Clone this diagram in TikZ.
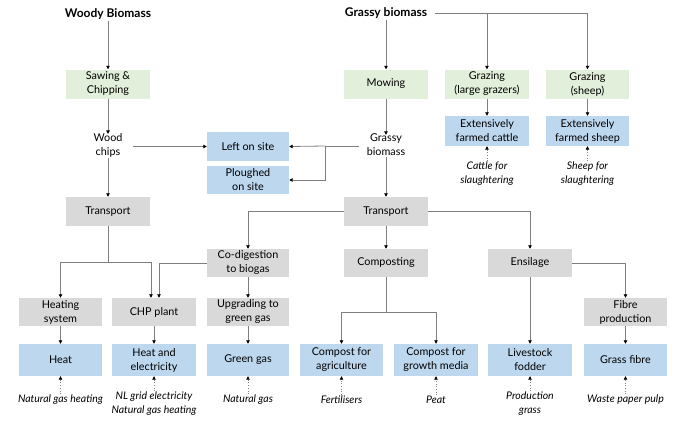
\documentclass[tikz,border=0pt]{standalone}
\usepackage{fontspec}
\setmainfont{Lato}
\usetikzlibrary{arrows.meta,positioning}
\definecolor{bxgreen}{HTML}{E2EFDA}
\definecolor{bxblue}{HTML}{BDD7EE}
\definecolor{bxgray}{HTML}{D9D9D9}
\definecolor{ln}{HTML}{7F7F7F}
\begin{document}
\begin{tikzpicture}[x=1pt,y=-1pt,
  font=\fontsize{10.8}{14}\selectfont,
  box/.style={rectangle,minimum width=84pt,minimum height=29pt,inner sep=1pt,align=center},
  gbox/.style={box,fill=bxgreen},
  bbox/.style={box,fill=bxblue},
  ybox/.style={box,fill=bxgray},
  rbox/.style={box,fill=bxblue,minimum height=32pt},
  plain/.style={align=center,inner sep=1pt},
  lab/.style={align=center,inner sep=1pt,font=\fontsize{10.5}{14}\selectfont\itshape},
  ttl/.style={inner sep=1pt,font=\fontsize{12}{14}\selectfont\bfseries},
  con/.style={draw=ln,line width=0.8pt},
  arr/.style={con,-{Triangle[length=3.5pt,width=3.5pt,color=black]}},
  dot/.style={draw=ln,line width=0.7pt,dotted,-{Triangle[length=3.5pt,width=3.5pt,color=black]}}
]
\useasboundingbox (0,0) rectangle (678,421);
% titles
\node[ttl] (woody) at (108,14) {Woody Biomass};
\node[ttl] (grassy) at (386,13) {Grassy biomass};
% row 1
\node[gbox] (saw) at (108,84) {Sawing \&\\Chipping};
\node[gbox] (mow) at (386,84) {Mowing};
\node[gbox] (grzL) at (487,84) {Grazing\\(large grazers)};
\node[gbox,minimum width=83pt] (grzS) at (587.5,84) {Grazing\\(sheep)};
\node[bbox,minimum height=30pt] (cattle) at (487,131) {Extensively\\farmed cattle};
\node[bbox,minimum height=30pt,minimum width=83pt] (sheep) at (587.5,131) {Extensively\\farmed sheep};
\node[lab] (lcattle) at (487,174) {Cattle for\\slaughtering};
\node[lab] (lsheep) at (587.5,174) {Sheep for\\slaughtering};
\node[plain] (chips) at (108,145) {Wood\\chips};
\node[plain] (gb) at (386,145) {Grassy\\biomass};
\node[bbox,minimum width=82pt] (left) at (248,146.5) {Left on site};
\node[bbox,minimum width=82pt,minimum height=28pt] (plough) at (248,180) {Ploughed\\on site};
% transport row
\node[ybox] (trW) at (108,211.5) {Transport};
\node[ybox] (trG) at (386,211.5) {Transport};
\node[ybox,minimum width=82pt,minimum height=28pt] (codig) at (248,263) {Co-digestion\\to biogas};
\node[ybox,minimum height=28pt] (compo) at (386,263) {Composting};
\node[ybox,minimum height=28pt] (ensil) at (530,263) {Ensilage};
% processing row
\node[ybox,minimum width=83pt,minimum height=28pt] (heatsys) at (60.5,312) {Heating\\system};
\node[ybox,minimum height=28pt] (chp) at (154,312) {CHP plant};
\node[ybox,minimum width=82pt,minimum height=28pt] (upg) at (248,312) {Upgrading to\\green gas};
\node[ybox,minimum width=83pt,minimum height=28pt] (fibre) at (625.5,312) {Fibre\\production};
% product row
\node[rbox,minimum width=83pt] (heat) at (60.5,360) {Heat};
\node[rbox] (heatel) at (154,360) {Heat and\\electricity};
\node[rbox,minimum width=82pt] (ggas) at (248,360) {Green gas};
\node[rbox,minimum width=83pt] (compA) at (341.5,360) {Compost for\\agriculture};
\node[rbox] (compG) at (436,360) {Compost for\\growth media};
\node[rbox] (fodder) at (530,360) {Livestock\\fodder};
\node[rbox,minimum width=83pt] (gfibre) at (625.5,360) {Grass fibre};
% labels
\node[lab] (l1) at (60.5,400) {Natural gas heating};
\node[lab] (l2) at (154,404) {NL grid electricity\\Natural gas heating};
\node[lab] (l3) at (248,400) {Natural gas};
\node[lab] (l4) at (341.5,400) {Fertilisers};
\node[lab] (l5) at (436,400) {Peat};
\node[lab] (l6) at (530,404) {Production\\grass};
\node[lab] (l7) at (625.5,400) {Waste paper pulp};
% coordinates
\coordinate (br) at (325,146);
\coordinate (gbw) at (359,146);
\coordinate (wce) at (133,146.5);
\coordinate (gte) at (435,13);
\coordinate (gt) at (587.5,13);
\coordinate (gm) at (487,13);
\coordinate (wj) at (108,262);
\coordinate (cj) at (386,312);
% connectors
\draw[arr] (woody.south) -- (saw.north);
\draw[arr] (saw.south) -- ([yshift=-2pt]chips.north);
\draw[arr] (chips.south) -- (trW.north);
\draw[arr] (wce) -- (left.west);
\draw[con] (gbw) -- (br);
\draw[arr] (br) -- (left.east);
\draw[arr] (br) |- (plough.east);
\draw[arr] (grassy.south) -- (mow.north);
\draw[con] (gte) -- (gt);
\draw[arr] (gt) -- (grzS.north);
\draw[arr] (gm) -- (grzL.north);
\draw[arr] (mow.south) -- ([yshift=-2pt]gb.north);
\draw[arr] (gb.south) -- (trG.north);
\draw[arr] (grzL.south) -- (cattle.north);
\draw[arr] (grzS.south) -- (sheep.north);
\draw[dot] (lcattle.north) -- (cattle.south);
\draw[dot] (lsheep.north) -- (sheep.south);
% wood transport
\draw[con] (trW.south) -- (wj);
\draw[arr] (wj) -| (heatsys.north);
\draw[arr] (wj) -| ([xshift=-3pt]chp.north);
\draw[arr] (codig.west) -| ([xshift=5pt]chp.north);
\draw[arr] (trG.west) -| (codig.north);
\draw[arr] (codig.south) -- (upg.north);
\draw[arr] (upg.south) -- (ggas.north);
\draw[arr] (heatsys.south) -- (heat.north);
\draw[arr] (chp.south) -- (heatel.north);
\draw[arr] (trG.south) -- (compo.north);
\draw[con] (compo.south) -- (cj);
\draw[arr] (cj) -| (compA.north);
\draw[arr] (cj) -| (compG.north);
\draw[arr] (trG.east) -| (ensil.north);
\draw[arr] (ensil.south) -- (fodder.north);
\draw[arr] (ensil.east) -| (fibre.north);
\draw[arr] (fibre.south) -- (gfibre.north);
% dotted
\draw[dot] (l1.north) -- (heat.south);
\draw[dot] (l2.north) -- (heatel.south);
\draw[dot] (l3.north) -- (ggas.south);
\draw[dot] (l4.north) -- (compA.south);
\draw[dot] (l5.north) -- (compG.south);
\draw[dot] (l6.north) -- (fodder.south);
\draw[dot] (l7.north) -- (gfibre.south);
\end{tikzpicture}
\end{document}
